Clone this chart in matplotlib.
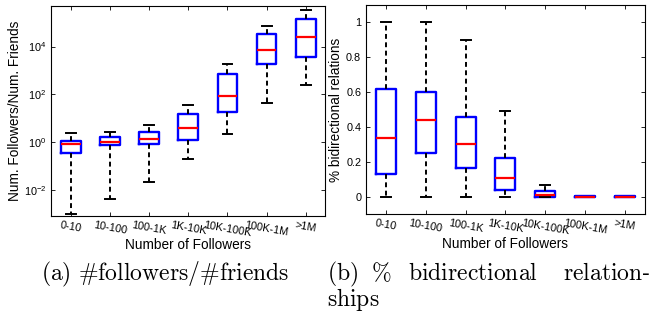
import matplotlib
matplotlib.use("Agg")
import matplotlib.pyplot as plt
import matplotlib.transforms as mtransforms
from matplotlib.ticker import NullLocator, FixedLocator

plt.rcParams["font.family"] = ["Liberation Sans", "DejaVu Sans"]
plt.rcParams["mathtext.fontset"] = "cm"

groups = ["0-10", "10-100", "100-1K", "1K-10K", "10K-100K", "100K-1M", ">1M"]

# followers / friends ratio (log scale)
ratio_whislo = [0.001, 0.004, 0.022, 0.2, 2.1, 42, 245]
ratio_q1 = [0.35, 0.75, 0.86, 1.2, 18.5, 1780, 3500]
ratio_med = [0.85, 1.04, 1.33, 4.0, 89, 7300, 26000]
ratio_q3 = [1.15, 1.57, 2.6, 14.7, 708, 34000, 147000]
ratio_whishi = [2.3, 2.7, 5.1, 36, 1780, 75000, 340000]

# share of bidirectional relations
bidir_whislo = [0, 0, 0, 0, 0, 0, 0]
bidir_q1 = [0.128, 0.25, 0.165, 0.04, 0.0, 0.0, 0.0]
bidir_med = [0.335, 0.44, 0.305, 0.105, 0.008, 0.0, 0.0]
bidir_q3 = [0.62, 0.6, 0.46, 0.22, 0.03, 0.002, 0.002]
bidir_whishi = [1.0, 1.0, 0.9, 0.49, 0.07, 0.0, 0.0]


def make_stats(lo, q1, med, q3, hi):
    return [dict(whislo=a, q1=b, med=c, q3=d, whishi=e, fliers=[], label=g)
            for a, b, c, d, e, g in zip(lo, q1, med, q3, hi, groups)]


def draw(ax, stats):
    ax.bxp(stats, positions=range(1, len(stats) + 1), widths=0.5,
           capwidths=0.25, showfliers=False,
           boxprops=dict(color="#0000ff", linewidth=1.7),
           medianprops=dict(color="#ff0000", linewidth=1.6),
           whiskerprops=dict(color="black", linewidth=1.4, linestyle=(0, (2.5, 1.8))),
           capprops=dict(color="black", linewidth=1.4))
    ax.set_xlim(0.5, 7.5)
    ax.set_xticks(range(1, 8))
    ax.set_xticklabels(groups, rotation=-10, fontsize=7.8, ha="center")
    shift = mtransforms.ScaledTranslation(7 / 100, 0, fig.dpi_scale_trans)
    for lab in ax.get_xticklabels():
        lab.set_transform(lab.get_transform() + shift)
    ax.tick_params(direction="in", top=True, right=True, labelsize=7.8,
                   length=3, width=0.6)
    ax.tick_params(axis="x", pad=3)
    ax.set_xlabel("Number of Followers", fontsize=9.8, labelpad=0)
    for s in ax.spines.values():
        s.set_linewidth(0.8)


fig = plt.figure(figsize=(6.56, 3.14), dpi=100)

ax1 = fig.add_axes([0.078, 0.312, 0.418, 0.669])
draw(ax1, make_stats(ratio_whislo, ratio_q1, ratio_med, ratio_q3, ratio_whishi))
ax1.set_yscale("log")
ax1.set_ylim(8e-4, 5e5)
ax1.yaxis.set_major_locator(FixedLocator([1e-2, 1, 1e2, 1e4]))
ax1.yaxis.set_minor_locator(NullLocator())
ax1.set_ylabel("Num. Followers/Num. Friends", fontsize=9.8, labelpad=1)

ax2 = fig.add_axes([0.558, 0.318, 0.425, 0.666])
draw(ax2, make_stats(bidir_whislo, bidir_q1, bidir_med, bidir_q3, bidir_whishi))
ax2.set_ylim(-0.1, 1.1)
ax2.set_yticks([0, 0.2, 0.4, 0.6, 0.8, 1])
ax2.set_yticklabels(["0", "0.2", "0.4", "0.6", "0.8", "1"])
ax2.set_ylabel("% bidirectional relations", fontsize=9.8, labelpad=2)

cap = dict(fontsize=17, va="baseline", color="black")
y1 = 1 - 280 / 314
y2 = 1 - 306 / 314
fig.text(41 / 656, y1, r"$(\mathrm{a})\ \#\mathrm{followers}/\#\mathrm{friends}$", ha="left", **cap)
fig.text(327 / 656, y1, r"$(\mathrm{b})$", ha="left", **cap)
fig.text(371 / 656, y1, r"$\%$", ha="left", **cap)
fig.text(408 / 656, y1, r"$\mathrm{bidirectional}$", ha="left", **cap)
fig.text(650 / 656, y1, r"$\mathrm{relation}$-", ha="right", **cap)
fig.text(327 / 656, y2, r"$\mathrm{ships}$", ha="left", **cap)

fig.savefig("out.png", dpi=100)
